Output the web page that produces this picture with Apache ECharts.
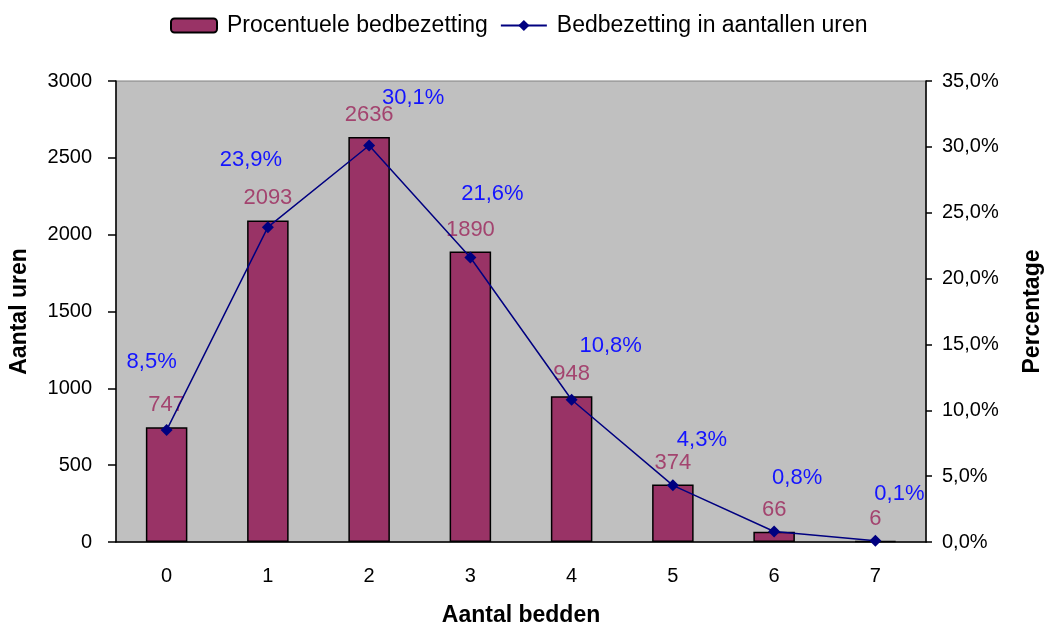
<!DOCTYPE html>
<html>
<head>
<meta charset="utf-8">
<script src="https://cdn.jsdelivr.net/npm/echarts@6/dist/echarts.min.js"></script>
<style>
  html, body { margin: 0; padding: 0; background: #fff; }
  #chart { width: 1046px; height: 628px; }
</style>
</head>
<body>
<div id="chart"></div>
<script>
// data
const categories = ['0', '1', '2', '3', '4', '5', '6', '7'];
const hours = [747, 2093, 2636, 1890, 948, 374, 66, 6];
const percentages = [8.5, 23.9, 30.1, 21.6, 10.8, 4.3, 0.8, 0.1];

// where excel put the % labels, relative to each point
const pctLabelShift = [[-15, -51], [-17, -50], [44, -31], [22, -47], [39, -37], [29, -28], [23, -37], [24, -30]];

const font = 'Liberation Sans';

function pct(v) {
  return v.toFixed(1).replace('.', ',') + '%';
}

let myChart = echarts.init(document.getElementById('chart'));

myChart.setOption({
  animation: false,
  textStyle: { fontFamily: font },
  legend: {
    top: 9,
    left: 165,
    itemWidth: 46,
    itemHeight: 14,
    itemGap: 12,
    textStyle: { fontFamily: font, fontSize: 23, color: '#000', padding: [0, 0, 0, 5] },
    data: ['Procentuele bedbezetting', 'Bedbezetting in aantallen uren']
  },
  grid: {
    left: 116, right: 120, top: 81, bottom: 86,
    outerBoundsMode: 'none',
    show: true,
    backgroundColor: '#c0c0c0',
    borderColor: '#808080',
    borderWidth: 1
  },
  xAxis: {
    type: 'category',
    data: categories,
    name: 'Aantal bedden',
    nameLocation: 'middle',
    nameGap: 62,
    nameTextStyle: { fontFamily: font, fontSize: 23, fontWeight: 'bold', color: '#000' },
    axisLine: { lineStyle: { color: '#000', width: 1.5 } },
    axisTick: { length: 8, lineStyle: { color: '#000', width: 1.5 } },
    axisLabel: { fontFamily: font, fontSize: 20, color: '#000', margin: 24 }
  },
  yAxis: [
    {
      type: 'value',
      min: 0, max: 3000, interval: 500,
      name: 'Aantal uren',
      nameLocation: 'middle',
      nameRotate: 90,
      nameGap: 85,
      nameTextStyle: { fontFamily: font, fontSize: 23, fontWeight: 'bold', color: '#000' },
      axisLine: { show: true, lineStyle: { color: '#000', width: 1.5 } },
      axisTick: { show: true, length: 8, lineStyle: { color: '#000', width: 1.5 } },
      axisLabel: { fontFamily: font, fontSize: 20, color: '#000', margin: 24, formatter: v => String(v) },
      splitLine: { show: false }
    },
    {
      type: 'value',
      min: 0, max: 35, interval: 5,
      name: 'Percentage',
      nameLocation: 'middle',
      nameRotate: 90,
      nameGap: 95,
      nameTextStyle: { fontFamily: font, fontSize: 23, fontWeight: 'bold', color: '#000' },
      axisLine: { show: true, lineStyle: { color: '#000', width: 1.5 } },
      axisTick: { show: true, length: 6, lineStyle: { color: '#000', width: 1.5 } },
      axisLabel: { fontFamily: font, fontSize: 20, color: '#000', margin: 16, formatter: pct },
      splitLine: { show: false }
    }
  ],
  series: [
    {
      name: 'Procentuele bedbezetting',
      type: 'bar',
      yAxisIndex: 0,
      barWidth: '41%',
      data: hours,
      itemStyle: { color: '#993366', borderColor: '#000', borderWidth: 1.5 },
      label: {
        show: true,
        position: 'top',
        distance: 11,
        fontFamily: font,
        fontSize: 22,
        color: '#a3446f'
      }
    },
    {
      name: 'Bedbezetting in aantallen uren',
      type: 'line',
      yAxisIndex: 1,
      data: percentages.map((v, i) => ({
        value: v,
        label: { offset: pctLabelShift[i] }
      })),
      symbol: 'diamond',
      symbolSize: 12,
      lineStyle: { color: '#000080', width: 1.5 },
      itemStyle: { color: '#000080' },
      label: {
        show: true,
        position: 'top',
        distance: 0,
        fontFamily: font,
        fontSize: 22,
        color: '#1414ff',
        formatter: p => pct(p.value)
      }
    }
  ]
});
</script>
</body>
</html>
